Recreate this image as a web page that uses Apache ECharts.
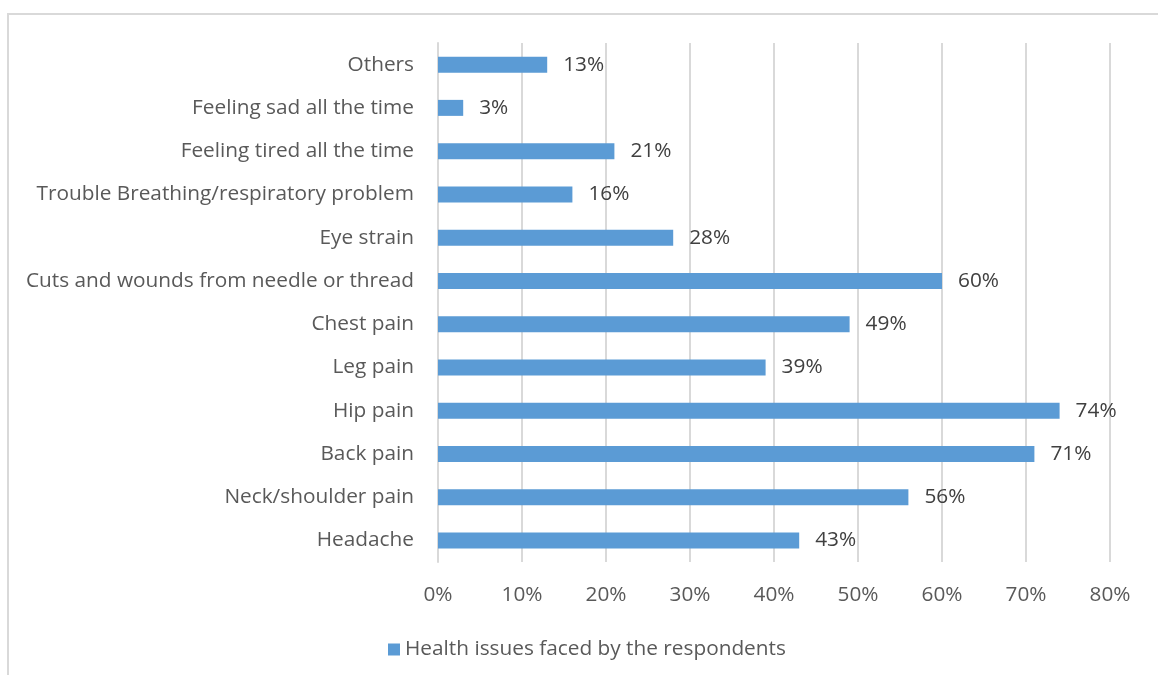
<!DOCTYPE html>
<html>
<head>
<meta charset="utf-8">
<script src="https://cdn.jsdelivr.net/npm/echarts@6/dist/echarts.min.js"></script>
<style>
  html, body { margin: 0; padding: 0; background: #ffffff; }
  #frame { position: absolute; left: 7px; top: 13px; width: 1160px; height: 680px; border: 2px solid #d9d9d9; box-sizing: border-box; }
  #chart { width: 1158px; height: 675px; }
</style>
</head>
<body>
<div id="frame"></div>
<div id="chart"></div>
<script>
// Health issues, listed bottom-to-top as they appear on the category axis
const categories = [
  'Headache',
  'Neck/shoulder pain',
  'Back pain',
  'Hip pain',
  'Leg pain',
  'Chest pain',
  'Cuts and wounds from needle or thread',
  'Eye strain',
  'Trouble Breathing/respiratory problem',
  'Feeling tired all the time',
  'Feeling sad all the time',
  'Others'
];
const seriesName = 'Health issues faced by the respondents';
const values = [43, 56, 71, 74, 39, 49, 60, 28, 16, 21, 3, 13];
const xTicks = [0, 10, 20, 30, 40, 50, 60, 70, 80];

const FONT = 'Open Sans';
const SIZE = 20.8;
const TEXT = '#595959';

const chart = echarts.init(document.getElementById('chart'), null, { renderer: 'canvas' });
chart.setOption({
  animation: false,
  backgroundColor: 'transparent',
  grid: { left: 438, right: 48, top: 43, bottom: 113, containLabel: false },
  legend: {
    data: [seriesName],
    bottom: 10,
    left: 383,
    itemWidth: 12,
    itemHeight: 12,
    itemGap: 6,
    icon: 'rect',
    textStyle: { fontFamily: FONT, fontSize: SIZE, color: TEXT }
  },
  xAxis: {
    type: 'value',
    min: xTicks[0],
    max: xTicks[xTicks.length - 1],
    interval: 10,
    axisLine: { show: false },
    axisTick: { show: false },
    splitLine: { show: true, lineStyle: { color: '#d9d9d9', width: 2 } },
    axisLabel: {
      margin: 23,
      fontFamily: FONT, fontSize: SIZE, color: TEXT,
      formatter: v => v + '%'
    }
  },
  yAxis: {
    type: 'category',
    data: categories,
    axisLine: { show: true, lineStyle: { color: '#d9d9d9', width: 2 } },
    axisTick: { show: false },
    axisLabel: { margin: 24, fontFamily: FONT, fontSize: SIZE, color: TEXT }
  },
  series: [{
    name: seriesName,
    type: 'bar',
    data: values,
    barWidth: 16,
    itemStyle: { color: '#5b9bd5' },
    label: {
      show: true,
      position: 'right',
      distance: 16,
      fontFamily: FONT, fontSize: SIZE, color: '#404040',
      formatter: p => p.value + '%'
    }
  }]
});
</script>
</body>
</html>
